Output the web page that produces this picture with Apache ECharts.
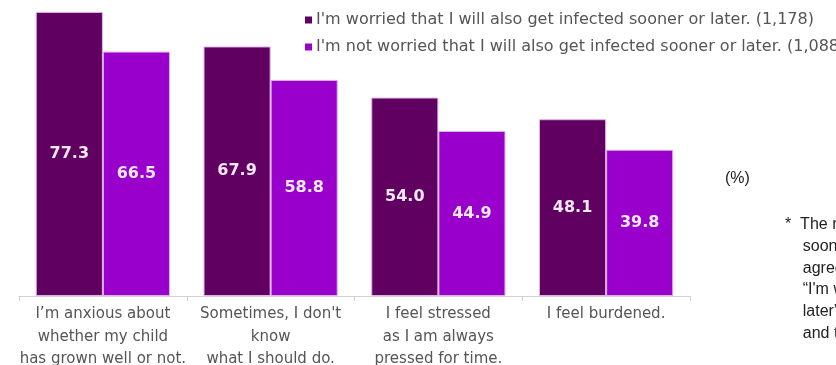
<!DOCTYPE html>
<html><head><meta charset="utf-8">
<script src="https://cdn.jsdelivr.net/npm/echarts@6/dist/echarts.min.js"></script>
<style>html,body{margin:0;padding:0;background:#fff;}#c{width:836px;height:365px;}</style>
</head><body><div id="c"></div>
<script>
const categories = [
  "I\u2019m anxious about\nwhether my child\nhas grown well or not.",
  "Sometimes, I don't\nknow\nwhat I should do.",
  "I feel stressed\nas I am always\npressed for time.",
  "I feel burdened."
];
const seriesNames = [
  "I'm worried that I will also get infected sooner or later. (1,178)",
  "I'm not worried that I will also get infected sooner or later. (1,088)"
];
const worried = [77.3, 67.9, 54.0, 48.1];
const notWorried = [66.5, 58.8, 44.9, 39.8];
const unitLabel = "(%)";
const footnoteLines = [
  "*  The respondents were asked whether they were worried",
  "    sooner or later about getting infected; those who",
  "    agreed are shown as",
  "    \u201cI'm worried that I will also get infected sooner or",
  "    later\u201d",
  "    and the others as not worried."
];

const chart = echarts.init(document.getElementById('c'));
const font = "DejaVu Sans";
const lbl = {show:true, position:'inside', color:'#f4e8f4', fontSize:16, fontWeight:'bold', fontFamily:font,
  formatter: p => p.value.toFixed(1)};
chart.setOption({
  animation:false,
  grid:{left:19, right:146, top:2, bottom:69, containLabel:false, outerBoundsMode:'none'},
  legend:{orient:'vertical', left:300, top:7, itemWidth:7, itemHeight:7, itemGap:11, icon:'rect',
    itemStyle:{borderWidth:0},
    textStyle:{color:'#555', fontSize:16, fontFamily:font, padding:[0,0,0,-1]}, data:seriesNames},
  xAxis:{type:'category', data:categories,
    axisLine:{lineStyle:{color:'#d0d0d0'}},
    axisTick:{show:true, length:5, lineStyle:{color:'#d0d0d0'}},
    axisLabel:{color:'#555', fontSize:15, fontFamily:font, lineHeight:22.5, margin:7, interval:0}},
  yAxis:{type:'value', min:0, max:80, show:false, splitLine:{show:false}},
  series:[
    {name:seriesNames[0], type:'bar', data:worried, barWidth:'40%', barGap:'0%',
     itemStyle:{color:'#600060', borderColor:'#dcb2ea', borderWidth:1}, label:lbl},
    {name:seriesNames[1], type:'bar', data:notWorried, barWidth:'40%', barGap:'0%',
     itemStyle:{color:'#9900cc', borderColor:'#dcb2ea', borderWidth:1}, label:lbl}
  ],
  graphic:[
    {type:'text', left:725, top:171, style:{text:unitLabel, fill:'#222', font:'16px "Liberation Sans", Arial'}},
    {type:'text', left:785, top:214, style:{text:footnoteLines.join('\n'), fill:'#222', lineHeight:21.7, font:'16px "Liberation Sans", Arial'}}
  ]
});
</script></body></html>
